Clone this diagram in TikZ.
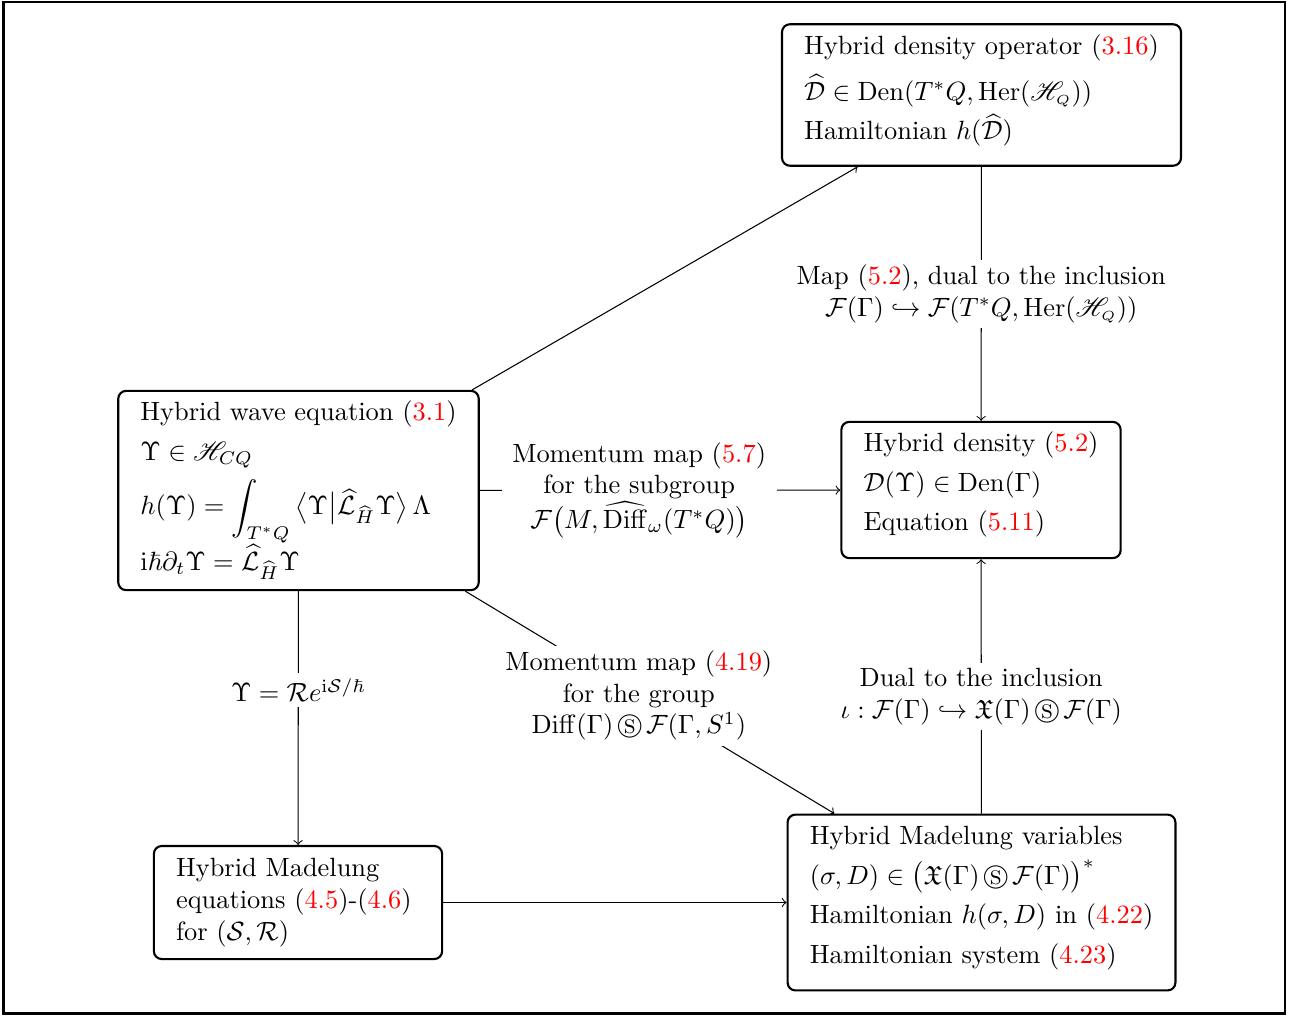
\documentclass[tikz,border=0pt]{standalone}
\usepackage{amsmath}
\usepackage{amssymb}
\usepackage{mathrsfs}
\usepackage{xcolor}
\usetikzlibrary{arrows}

\renewcommand{\arraystretch}{1.25}
\newcommand{\redno}[1]{(\textcolor{red}{#1})}
\newcommand{\boxrows}[2][5pt]{\begin{tabular}{@{}l@{}}#2\\[#1]\end{tabular}}
\newcommand{\HQ}{\mathscr{H}_{\scriptscriptstyle Q}}
\newcommand{\semid}{\,\circledS\,}

\begin{document}
\begin{tikzpicture}[x=0.3788pt,y=0.3788pt,yscale=-1,xscale=1,
  box/.style={draw, thick, rounded corners=3pt, inner xsep=8.4pt, inner ysep=0.8pt},
  lbl/.style={fill=white, align=center, inner xsep=4pt, inner ysep=2pt},
  conn/.style={->}]
%set diagram size 1298 x 1017
\useasboundingbox (0,0) rectangle (1298,1017);
%Outer frame
\draw [thick] (3.5,2) rectangle (1285,1013.5);
%Shape: Rounded Rect [hybrid density operator]
\node [box] (dhat) at (981.5,95) {\boxrows[4.5pt]{Hybrid density operator \redno{3.16}\\[2.5pt]
  $\widehat{\mathcal{D}}\in\operatorname{Den}(T^*Q,\operatorname{Her}(\HQ))$\\
  Hamiltonian $h(\widehat{\mathcal{D}})$}};
%Shape: Rounded Rect [hybrid wave equation]
\node [box] (wave) at (298.5,490.5) {\boxrows[2.2pt]{Hybrid wave equation \redno{3.1}\\
  $\Upsilon\in\mathscr{H}_{CQ}$\\[2.6pt]
  $\displaystyle h(\Upsilon)=\int_{T^*Q}\big\langle\Upsilon\big|\widehat{\mathcal{L}}_{\widehat{H}}\Upsilon\big\rangle\,\Lambda$\\[1.5pt]
  $\mathrm{i}\hbar\partial_t\Upsilon=\widehat{\mathcal{L}}_{\widehat{H}}\Upsilon$}};
%Shape: Rounded Rect [hybrid density]
\node [box] (dens) at (981,490) {\boxrows{Hybrid density \redno{5.2}\\
  $\mathcal{D}(\Upsilon)\in\operatorname{Den}(\Gamma)$\\
  Equation \redno{5.11}}};
%Shape: Rounded Rect [madelung equations]
\node [box, align=left, text width=92.4pt, inner ysep=4.7pt] (madeq) at (298,902.5)
  {Hybrid Madelung\\ equations \redno{4.5}-\redno{4.6}\\ for $(\mathcal{S},\mathcal{R})$};
%Shape: Rounded Rect [madelung variables]
\node [box] (madvar) at (981.5,902.5) {\boxrows{Hybrid Madelung variables\\
  $(\sigma,D)\in\big(\mathfrak{X}(\Gamma)\semid\mathcal{F}(\Gamma)\big)^*$\\
  Hamiltonian $h(\sigma,D)$ in \redno{4.22}\\
  Hamiltonian system \redno{4.23}}};
%Straight Lines
\draw [conn] (wave) -- (dhat);
%Straight Lines
\draw [conn] (wave) -- node [lbl, pos=0.442] (mmsub) {Momentum map \redno{5.7}\\ for the subgroup\\
  $\mathcal{F}\big(M,\widehat{\operatorname{Diff}}_\omega(T^*Q)\big)$} (dens);
%Straight Lines
\draw [conn] (wave) -- node [lbl, pos=0.47] (mmgrp) {Momentum map \redno{4.19}\\ for the group\\
  $\operatorname{Diff}(\Gamma)\semid\mathcal{F}(\Gamma,S^1)$} (madvar);
%Straight Lines
\draw [conn] (dhat) -- node [lbl, pos=0.5] (mapdual) {Map \redno{5.2}, dual to the inclusion\\
  $\mathcal{F}(\Gamma)\hookrightarrow\mathcal{F}(T^*Q,\operatorname{Her}(\HQ))$} (dens);
%Straight Lines
\draw [conn] (madvar) -- node [lbl, pos=0.46] (dualinc) {Dual to the inclusion\\
  $\iota:\mathcal{F}(\Gamma)\hookrightarrow\mathfrak{X}(\Gamma)\semid\mathcal{F}(\Gamma)$} (dens);
%Straight Lines
\draw [conn] (wave) -- node [lbl, pos=0.39] (polar) {$\Upsilon=\mathcal{R}e^{\mathrm{i}\mathcal{S}/\hbar}$} (madeq);
%Straight Lines
\draw [conn] (madeq) -- (madvar);
\end{tikzpicture}
\end{document}
